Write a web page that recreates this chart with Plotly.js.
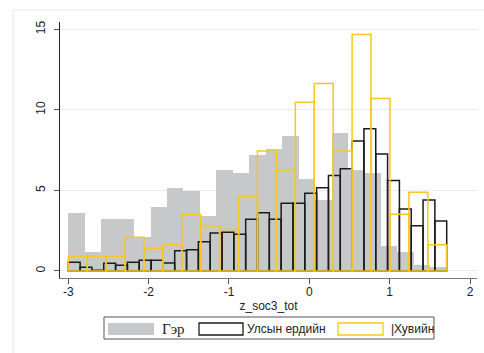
<!DOCTYPE html>
<html>
<head>
<meta charset="utf-8">
<script src="https://cdn.plot.ly/plotly-3.0.1.min.js"></script>
<style>html,body{margin:0;padding:0;background:#fff;}#chart{width:484px;height:353px;}</style>
</head>
<body>
<div id="chart"></div>
<script>
// Histogram range (shared by all three groups)
const binStart = -3.0;
const binEnd = 1.71;

// Series names (legend labels)
const seriesNames = ["Гэр", "Улсын ердийн", "|Хувийн"];

// Percent heights per bin
const gerValues = [3.62, 1.16, 3.23, 3.23, 2.13, 3.99, 5.15, 4.95, 3.41, 6.27, 6.08, 7.22,
  7.57, 8.38, 5.71, 4.39, 8.55, 6.27, 6.08, 1.55, 1.20, 0.39, 0.23];
const ulsValues = [0.54, 0.23, 0.04, 0.48, 0.35, 0.54, 0.66, 0.66, 0.50, 1.26, 1.32, 1.82,
  2.36, 2.40, 2.28, 3.21, 3.62, 3.21, 4.20, 4.20, 4.82, 5.17, 5.92, 6.35, 8.07, 8.83,
  7.26, 5.61, 3.85, 2.81, 4.41, 3.10];
const huvValues = [0.91, 0.91, 0.91, 2.09, 1.41, 1.63, 3.50, 2.79, 2.57, 4.61, 7.45, 6.27,
  10.47, 11.63, 7.45, 14.67, 10.70, 3.52, 4.88, 1.63];

// Axis ticks
const xTicks = [-3, -2, -1, 0, 1, 2];
const xTickLabels = ["-3", "-2", "-1", "0", "1", "2"];
const yTicks = [0, 5, 10, 15];
const yTickLabels = ["0", "5", "10", "15"];
const xTitle = "z_soc3_tot";

function binTrace(values, fill, lineColor, lineWidth) {
  const w = (binEnd - binStart) / values.length;
  const centers = values.map((_, i) => binStart + w * (i + 0.5));
  return {
    type: "bar", x: centers, y: values, width: w,
    marker: { color: fill, line: { color: lineColor, width: lineWidth } },
    hoverinfo: "skip", showlegend: false
  };
}

const traces = [
  binTrace(gerValues, "#c7c8ca", "rgba(0,0,0,0)", 0),
  binTrace(ulsValues, "rgba(0,0,0,0)", "#1b1b1b", 1.5),
  binTrace(huvValues, "rgba(0,0,0,0)", "#f7c71e", 1.5)
];

// pixel -> paper helpers (plot area: x 60..477, y 22..278)
const L = 60, R = 477, T = 22, B = 278;
const px = x => (x - L) / (R - L);
const py = y => (B - y) / (B - T);

const shapes = [
  // outer graph frame
  { type: "rect", xref: "paper", yref: "paper", x0: px(13), x1: px(500), y0: py(370), y1: py(10),
    line: { color: "#dce8ec", width: 1 }, fillcolor: "rgba(0,0,0,0)", layer: "below" },
  // legend box
  { type: "rect", xref: "paper", yref: "paper", x0: px(104), x1: px(434), y0: py(339), y1: py(317),
    line: { color: "#555", width: 1 }, fillcolor: "#fff" },
  // legend swatches
  { type: "rect", xref: "paper", yref: "paper", x0: px(108), x1: px(154), y0: py(335), y1: py(323),
    line: { width: 0 }, fillcolor: "#c7c8ca" },
  { type: "rect", xref: "paper", yref: "paper", x0: px(199), x1: px(243), y0: py(335), y1: py(323),
    line: { color: "#1b1b1b", width: 1.3 }, fillcolor: "#fff" },
  { type: "rect", xref: "paper", yref: "paper", x0: px(338), x1: px(383), y0: py(335), y1: py(323),
    line: { color: "#f7c71e", width: 1.3 }, fillcolor: "#fff" }
];

const annotations = [
  { xref: "paper", yref: "paper", x: px(160), y: py(329), xanchor: "left", yanchor: "middle",
    text: seriesNames[0], showarrow: false, font: { family: "Liberation Serif", size: 15, color: "#222" } },
  { xref: "paper", yref: "paper", x: px(245), y: py(329), xanchor: "left", yanchor: "middle",
    text: seriesNames[1], showarrow: false, font: { family: "Liberation Sans, Arial", size: 12, color: "#222" } },
  { xref: "paper", yref: "paper", x: px(389), y: py(329), xanchor: "left", yanchor: "middle",
    text: seriesNames[2], showarrow: false, font: { family: "Liberation Sans, Arial", size: 12, color: "#222" } }
];

const layout = {
  width: 484, height: 353,
  margin: { l: L, r: 484 - R, t: T, b: 353 - B, pad: 0 },
  paper_bgcolor: "#fff", plot_bgcolor: "#fff",
  barmode: "overlay", bargap: 0,
  font: { family: "Liberation Sans, Arial", size: 12, color: "#222" },
  xaxis: {
    range: [-3.103, 2.087], tickvals: xTicks, ticktext: xTickLabels,
    showgrid: false, zeroline: false, showline: true, linecolor: "#777", linewidth: 1,
    ticks: "outside", ticklen: 5, tickcolor: "#555", tickwidth: 1,
    ticklabelstandoff: -2,
    tickfont: { size: 12, color: "#222" },
    title: { text: xTitle, font: { size: 12, color: "#222" }, standoff: 3 }
  },
  yaxis: {
    range: [-0.435, 15.45], tickvals: yTicks, ticktext: yTickLabels,
    showgrid: true, gridcolor: "#e2eef2", gridwidth: 1, zeroline: false,
    showline: true, linecolor: "#222", linewidth: 1,
    ticks: "outside", ticklen: 5, tickcolor: "#555", tickwidth: 1,
    ticklabelstandoff: 4,
    tickangle: -90, tickfont: { size: 12, color: "#222" }
  },
  shapes: shapes, annotations: annotations, showlegend: false
};

Plotly.newPlot("chart", traces, layout, { staticPlot: true, displayModeBar: false });
</script>
</body>
</html>
